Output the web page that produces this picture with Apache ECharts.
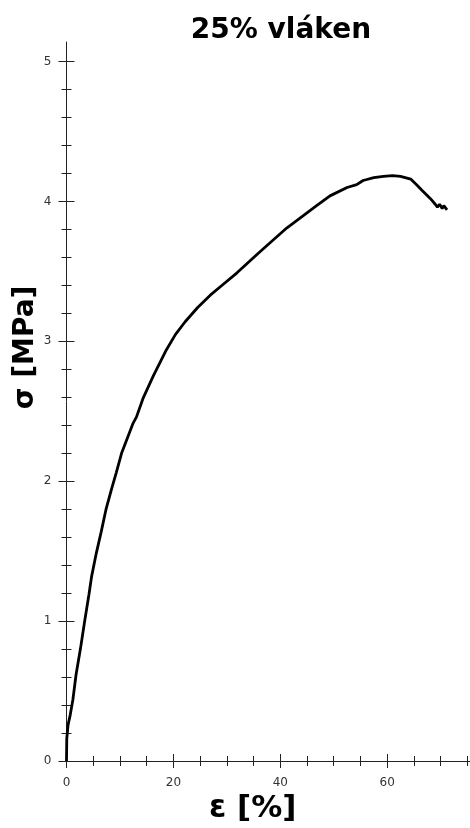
<!DOCTYPE html>
<html>
<head>
<meta charset="utf-8">
<style>
  html, body { margin: 0; padding: 0; background: #fff; }
  #chart { width: 470px; height: 828px; }
</style>
<script src="https://cdn.jsdelivr.net/npm/echarts@6/dist/echarts.min.js"></script>
</head>
<body>
<div id="chart"></div>
<script>
// Strain (%) and stress (MPa)
const strain = [0, 0.05, 0.3, 0.7, 1.2, 1.8, 2.6, 3.4, 4.2, 4.7, 5.6, 6.5, 7.4, 8.4, 9.3, 10.3,
  11.2, 12.4, 13.1, 14.3, 16.2, 18.7, 20.4, 22.2, 24.5, 26.9, 29.4, 31.9, 36.2, 41.2, 46.8, 49.3, 52.5, 54.3,
  55.5, 57.5, 59.3, 61.0, 62.5, 64.4, 65.5, 66.5, 68.1, 69.0, 69.4, 69.8, 70.3, 70.6, 71.2];
const stress = [0, 0.16, 0.26, 0.33, 0.44, 0.62, 0.80, 1.00, 1.19, 1.32, 1.49, 1.64, 1.80, 1.94, 2.06, 2.20,
  2.29, 2.41, 2.46, 2.59, 2.75, 2.94, 3.05, 3.14, 3.24, 3.33, 3.41, 3.49, 3.64, 3.81, 3.97, 4.04, 4.10, 4.12,
  4.15, 4.17, 4.18, 4.185, 4.18, 4.16, 4.12, 4.08, 4.02, 3.98, 3.96, 3.98, 3.95, 3.97, 3.94];

// Tick positions
const xMajorTicks = [0, 20, 40, 60];
const xMinorTicks = [5, 10, 15, 25, 30, 35, 45, 50, 55, 65, 70, 75];
const yMajorTicks = [0, 1, 2, 3, 4, 5];
const yMinorTicks = [0.2, 0.4, 0.6, 0.8, 1.2, 1.4, 1.6, 1.8, 2.2, 2.4, 2.6, 2.8,
  3.2, 3.4, 3.6, 3.8, 4.2, 4.4, 4.6, 4.8];

const titleText = '25% vláken';
const xName = 'ε [%]';
const yName = 'σ [MPa]';

const X_MIN = 0, X_MAX = 75.5;
const Y_MIN = 0, Y_MAX = 5.14;
const AXIS_COLOR = '#222';
const LABEL_FONT = { fontFamily: 'DejaVu Sans', fontSize: 12, color: '#333' };
const NAME_FONT = 'DejaVu Sans';

// Tick-only axis: placed beyond the main line and pointing inward,
// so each tick crosses the main axis line
function tickAxis(base, values, offset, len) {
  return Object.assign({
    type: 'value', offset: offset,
    axisLine: { show: false, onZero: false }, splitLine: { show: false },
    axisLabel: { show: false },
    axisTick: { show: true, inside: true, length: len, customValues: values,
      lineStyle: { color: AXIS_COLOR, width: 1 } }
  }, base);
}

const xBase = { min: X_MIN, max: X_MAX, position: 'bottom' };
const yBase = { min: Y_MIN, max: Y_MAX, position: 'left' };

const chart = echarts.init(document.getElementById('chart'), null, { renderer: 'canvas' });
chart.setOption({
  backgroundColor: '#fff',
  animation: false,
  title: {
    text: titleText, left: 276, top: 12, textAlign: 'center',
    textStyle: { fontFamily: NAME_FONT, fontWeight: 'bold', fontSize: 28, color: '#000' }
  },
  grid: { left: 66.5, right: 0, top: 42, bottom: 67, containLabel: false, outerBoundsMode: 'none' },
  xAxis: [
    Object.assign({
      type: 'value',
      name: xName, nameLocation: 'middle', nameGap: 32, nameMoveOverlap: false,
      nameTextStyle: { fontFamily: NAME_FONT, fontWeight: 'bold', fontSize: 31, color: '#000', padding: [0, 31, 0, 0] },
      axisLine: { show: true, onZero: false, lineStyle: { color: AXIS_COLOR, width: 1 } },
      axisTick: { show: false },
      splitLine: { show: false },
      axisLabel: Object.assign({ margin: 16, customValues: xMajorTicks }, LABEL_FONT)
    }, xBase),
    tickAxis(xBase, xMajorTicks, 7, 14),
    tickAxis(xBase, xMinorTicks, 5, 10)
  ],
  yAxis: [
    Object.assign({
      type: 'value',
      name: yName, nameLocation: 'middle', nameGap: 27, nameRotate: 90, nameMoveOverlap: false,
      nameTextStyle: { fontFamily: NAME_FONT, fontWeight: 'bold', fontSize: 28, color: '#000', padding: [0, 0, 0, 108] },
      axisLine: { show: true, onZero: false, lineStyle: { color: AXIS_COLOR, width: 1 } },
      axisTick: { show: false },
      splitLine: { show: false },
      axisLabel: Object.assign({ margin: 15, customValues: yMajorTicks }, LABEL_FONT)
    }, yBase),
    tickAxis(yBase, yMajorTicks, 8, 16),
    tickAxis(yBase, yMinorTicks, 5, 10)
  ],
  series: [{
    type: 'line',
    xAxisIndex: 0, yAxisIndex: 0,
    data: strain.map((e, i) => [e, stress[i]]),
    showSymbol: false,
    lineStyle: { color: '#000', width: 2.8 },
    z: 5
  }]
});
</script>
</body>
</html>
